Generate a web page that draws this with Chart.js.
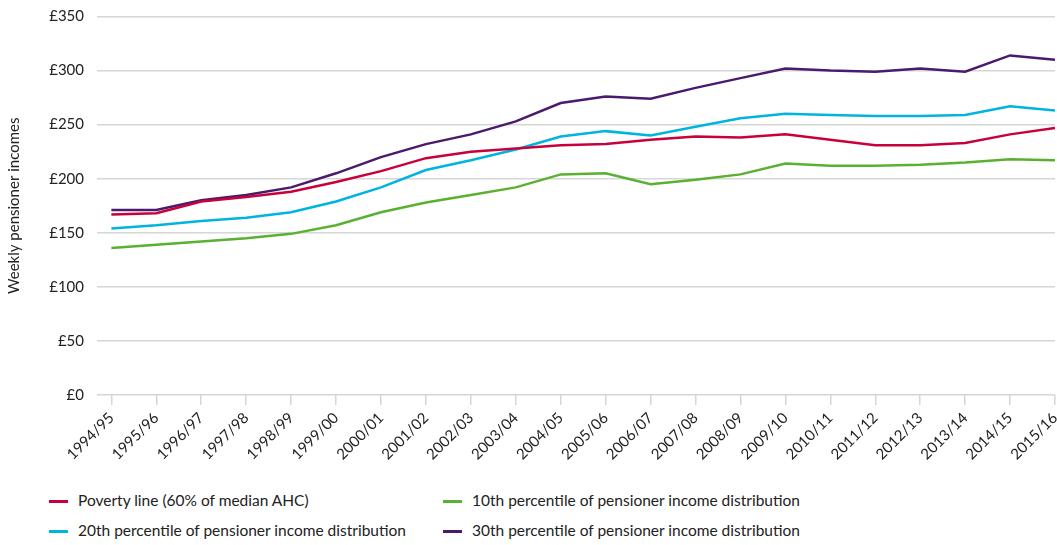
<!DOCTYPE html>
<html>
<head>
<meta charset="utf-8">
<script src="https://cdn.jsdelivr.net/npm/chart.js@4/dist/chart.umd.min.js"></script>
<style>
  body { margin: 0; background: #fff; font-family: Lato, "Open Sans", sans-serif; }
  #wrap { position: absolute; left: 0; top: 0; width: 1057px; height: 480px; }
  .key { position: absolute; font-size: 15.5px; color: #222; white-space: nowrap; }
  .key span { display: inline-block; width: 19px; height: 3px; vertical-align: middle; margin-right: 10px; position: relative; top: -1px; }
</style>
</head>
<body>
<div id="wrap"><canvas id="chart"></canvas></div>
<div class="key" style="left:49px; top:491px;"><span style="background:#c8003c"></span>Poverty line (60% of median AHC)</div>
<div class="key" style="left:443px; top:491px;"><span style="background:#5ab030"></span>10th percentile of pensioner income distribution</div>
<div class="key" style="left:49px; top:521px;"><span style="background:#00b4e0"></span>20th percentile of pensioner income distribution</div>
<div class="key" style="left:443px; top:521px;"><span style="background:#4a1a6e"></span>30th percentile of pensioner income distribution</div>
<script>
const years = ['1994/95', '1995/96', '1996/97', '1997/98', '1998/99', '1999/00', '2000/01', '2001/02',
  '2002/03', '2003/04', '2004/05', '2005/06', '2006/07', '2007/08', '2008/09', '2009/10', '2010/11',
  '2011/12', '2012/13', '2013/14', '2014/15', '2015/16'];

const povertyLine = [167, 168, 179, 183, 188, 197, 207, 219, 225, 228, 231, 232, 236, 239, 238, 241, 236, 231, 231, 233, 241, 247];
const p10 = [136, 139, 142, 145, 149, 157, 169, 178, 185, 192, 204, 205, 195, 199, 204, 214, 212, 212, 213, 215, 218, 217];
const p20 = [154, 157, 161, 164, 169, 179, 192, 208, 217, 227, 239, 244, 240, 248, 256, 260, 259, 258, 258, 259, 267, 263];
const p30 = [171, 171, 180, 185, 192, 205, 220, 232, 241, 253, 270, 276, 274, 284, 293, 302, 300, 299, 302, 299, 314, 310];

const yTicks = [0, 50, 100, 150, 200, 250, 300, 350];

function points(values) {
  return values.map((v, i) => ({ x: i, y: v }));
}

function line(label, values, color) {
  return {
    label: label,
    data: points(values),
    borderColor: color,
    backgroundColor: color,
    borderWidth: 2.5,
    pointRadius: 0,
    tension: 0
  };
}

const ctx = document.getElementById('chart').getContext('2d');
new Chart(ctx, {
  type: 'line',
  data: {
    datasets: [
      line('Poverty line (60% of median AHC)', povertyLine, '#c8003c'),
      line('10th percentile of pensioner income distribution', p10, '#5ab030'),
      line('20th percentile of pensioner income distribution', p20, '#00b4e0'),
      line('30th percentile of pensioner income distribution', p30, '#4a1a6e')
    ]
  },
  options: {
    responsive: true,
    maintainAspectRatio: false,
    animation: false,
    layout: { padding: { top: 16.5, right: 2, left: 0, bottom: 0 } },
    plugins: { legend: { display: false }, tooltip: { enabled: false } },
    scales: {
      x: {
        type: 'linear',
        min: -0.32,
        max: years.length - 1,
        afterBuildTicks: function(scale) {
          scale.ticks = years.map((_, i) => ({ value: i }));
        },
        // fixed band for the slanted year labels, no extra side padding
        afterFit: function(scale) {
          scale.height = 85;
          scale.paddingLeft = 0;
          scale.paddingRight = 0;
        },
        ticks: {
          autoSkip: false,
          minRotation: 45,
          maxRotation: 45,
          padding: 4,
          color: '#222',
          font: { family: 'Lato', size: 15 },
          callback: function(value) { return years[value]; }
        },
        grid: { drawOnChartArea: false, drawTicks: true, tickLength: 10, color: '#d6d6d6', lineWidth: 1.5 },
        border: { display: false }
      },
      y: {
        min: 0,
        max: 350,
        afterBuildTicks: function(scale) {
          scale.ticks = yTicks.map(v => ({ value: v }));
        },
        afterFit: function(scale) {
          scale.width = 97;
          scale.paddingTop = 0;
          scale.paddingBottom = 0;
        },
        ticks: {
          padding: 13,
          color: '#222',
          font: { family: 'Lato', size: 15 },
          callback: function(value) { return '£' + value; }
        },
        grid: { drawTicks: false, color: '#d6d6d6', lineWidth: 1.5 },
        border: { display: false },
        title: {
          display: true,
          text: 'Weekly pensioner incomes',
          color: '#222',
          font: { family: 'Lato', size: 15 },
          padding: { top: 5, bottom: 0 }
        }
      }
    }
  }
});
</script>
</body>
</html>
